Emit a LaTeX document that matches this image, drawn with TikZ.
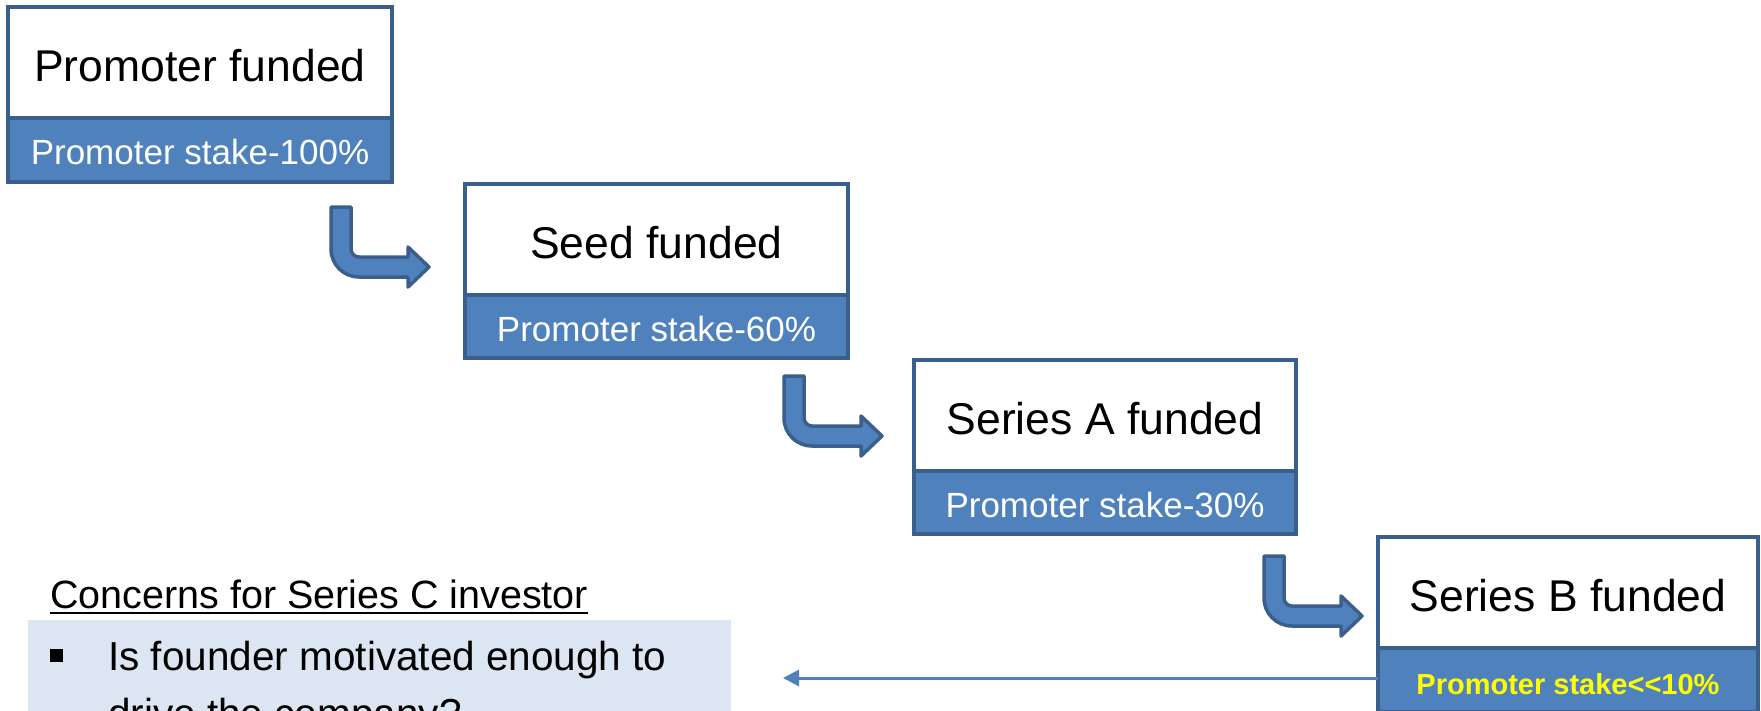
\documentclass[tikz,border=0pt]{standalone}
\usepackage{fontspec}
\setmainfont{Liberation Sans}
\usetikzlibrary{arrows.meta}
\definecolor{bfill}{HTML}{4F81BD}
\definecolor{bdark}{HTML}{3B5F8C}
\definecolor{panelc}{HTML}{DCE6F2}
\definecolor{yel}{HTML}{FFFF00}
\tikzset{
  titlebox/.style={draw=bdark, line width=4pt, fill=white, inner sep=0pt, outer sep=0pt,
    text height=74pt, text depth=37pt, align=center, anchor=north west,
    font=\fontsize{44.5}{50}\selectfont},
  subbox/.style={draw=bdark, line width=4pt, fill=bfill, inner sep=0pt, outer sep=0pt,
    text height=46pt, text depth=18pt, align=center, anchor=north west, text=white,
    font=\fontsize{35}{40}\selectfont},
  bentarrow/.pic={
    \filldraw[fill=bfill, draw=bdark, line width=3.5pt, line join=round]
      (0,0) -- (20,0) -- (20,42) .. controls (20,46.4) and (23.6,50) .. (28,50)
      -- (77,50) -- (77,40) -- (98,60) -- (77,80) -- (77,70) -- (28,70)
      .. controls (12.5,70) and (0,57.5) .. (0,42) -- cycle;
  },
  bodytext/.style={inner sep=0pt, anchor=base west, font=\fontsize{40.5}{46}\selectfont},
}
\begin{document}
\begin{tikzpicture}[x=1pt,y=-1pt]
\useasboundingbox (0,0) rectangle (1761,710);
\clip (0,0) rectangle (1761,710);
\fill[white] (0,0) rectangle (1761,710);

% boxes
\node[titlebox, minimum width=384pt] (t1) at (8,7) {Promoter funded};
\node[subbox, minimum width=384pt] (s1) at (t1.south west) {Promoter stake-100\%};

\node[titlebox, minimum width=383pt] (t2) at (465,184) {Seed funded};
\node[subbox, minimum width=383pt, text depth=17pt] (s2) at (t2.south west) {Promoter stake-60\%};

\node[titlebox, minimum width=382pt] (t3) at (914,360) {Series A funded};
\node[subbox, minimum width=382pt, text depth=17pt] (s3) at (t3.south west) {Promoter stake-30\%};

\node[titlebox, minimum width=380pt] (t4) at (1378,537) {Series B funded};
\node[subbox, minimum width=380pt, text=yel, font=\bfseries\fontsize{29}{34}\selectfont] (s4) at (t4.south west) {Promoter stake<{}<10\%};

% bent arrows
\coordinate (a1) at (331,207);
\coordinate (a2) at (784,376);
\coordinate (a3) at (1264,556);
\pic at (a1) {bentarrow};
\pic at (a2) {bentarrow};
\pic at (a3) {bentarrow};

% panel
\node[fill=panelc, anchor=north west, minimum width=703pt, minimum height=100pt, inner sep=0pt, outer sep=0pt] (panel) at (28,620) {};
\node[fill=black, minimum size=13pt, inner sep=0pt] (bul) at (56.5,655) {};
\node[bodytext] (q1) at (108,670) {Is founder motivated enough to};
\node[bodytext] (q2) at (108,727) {drive the company?};

% heading
\node[inner sep=0pt, anchor=base west, font=\fontsize{39.5}{45}\selectfont] (hd) at (50,608) {Concerns for Series C investor};
\draw[line width=2.5pt] ([yshift=-5pt]hd.base west) -- ([yshift=-5pt]hd.base east);

% feedback arrow
\coordinate (tipc) at (783,678);
\draw[bfill, line width=3pt, -{Triangle[length=16pt,width=16pt]}] (s4.west |- tipc) -- (tipc);
\end{tikzpicture}
\end{document}
